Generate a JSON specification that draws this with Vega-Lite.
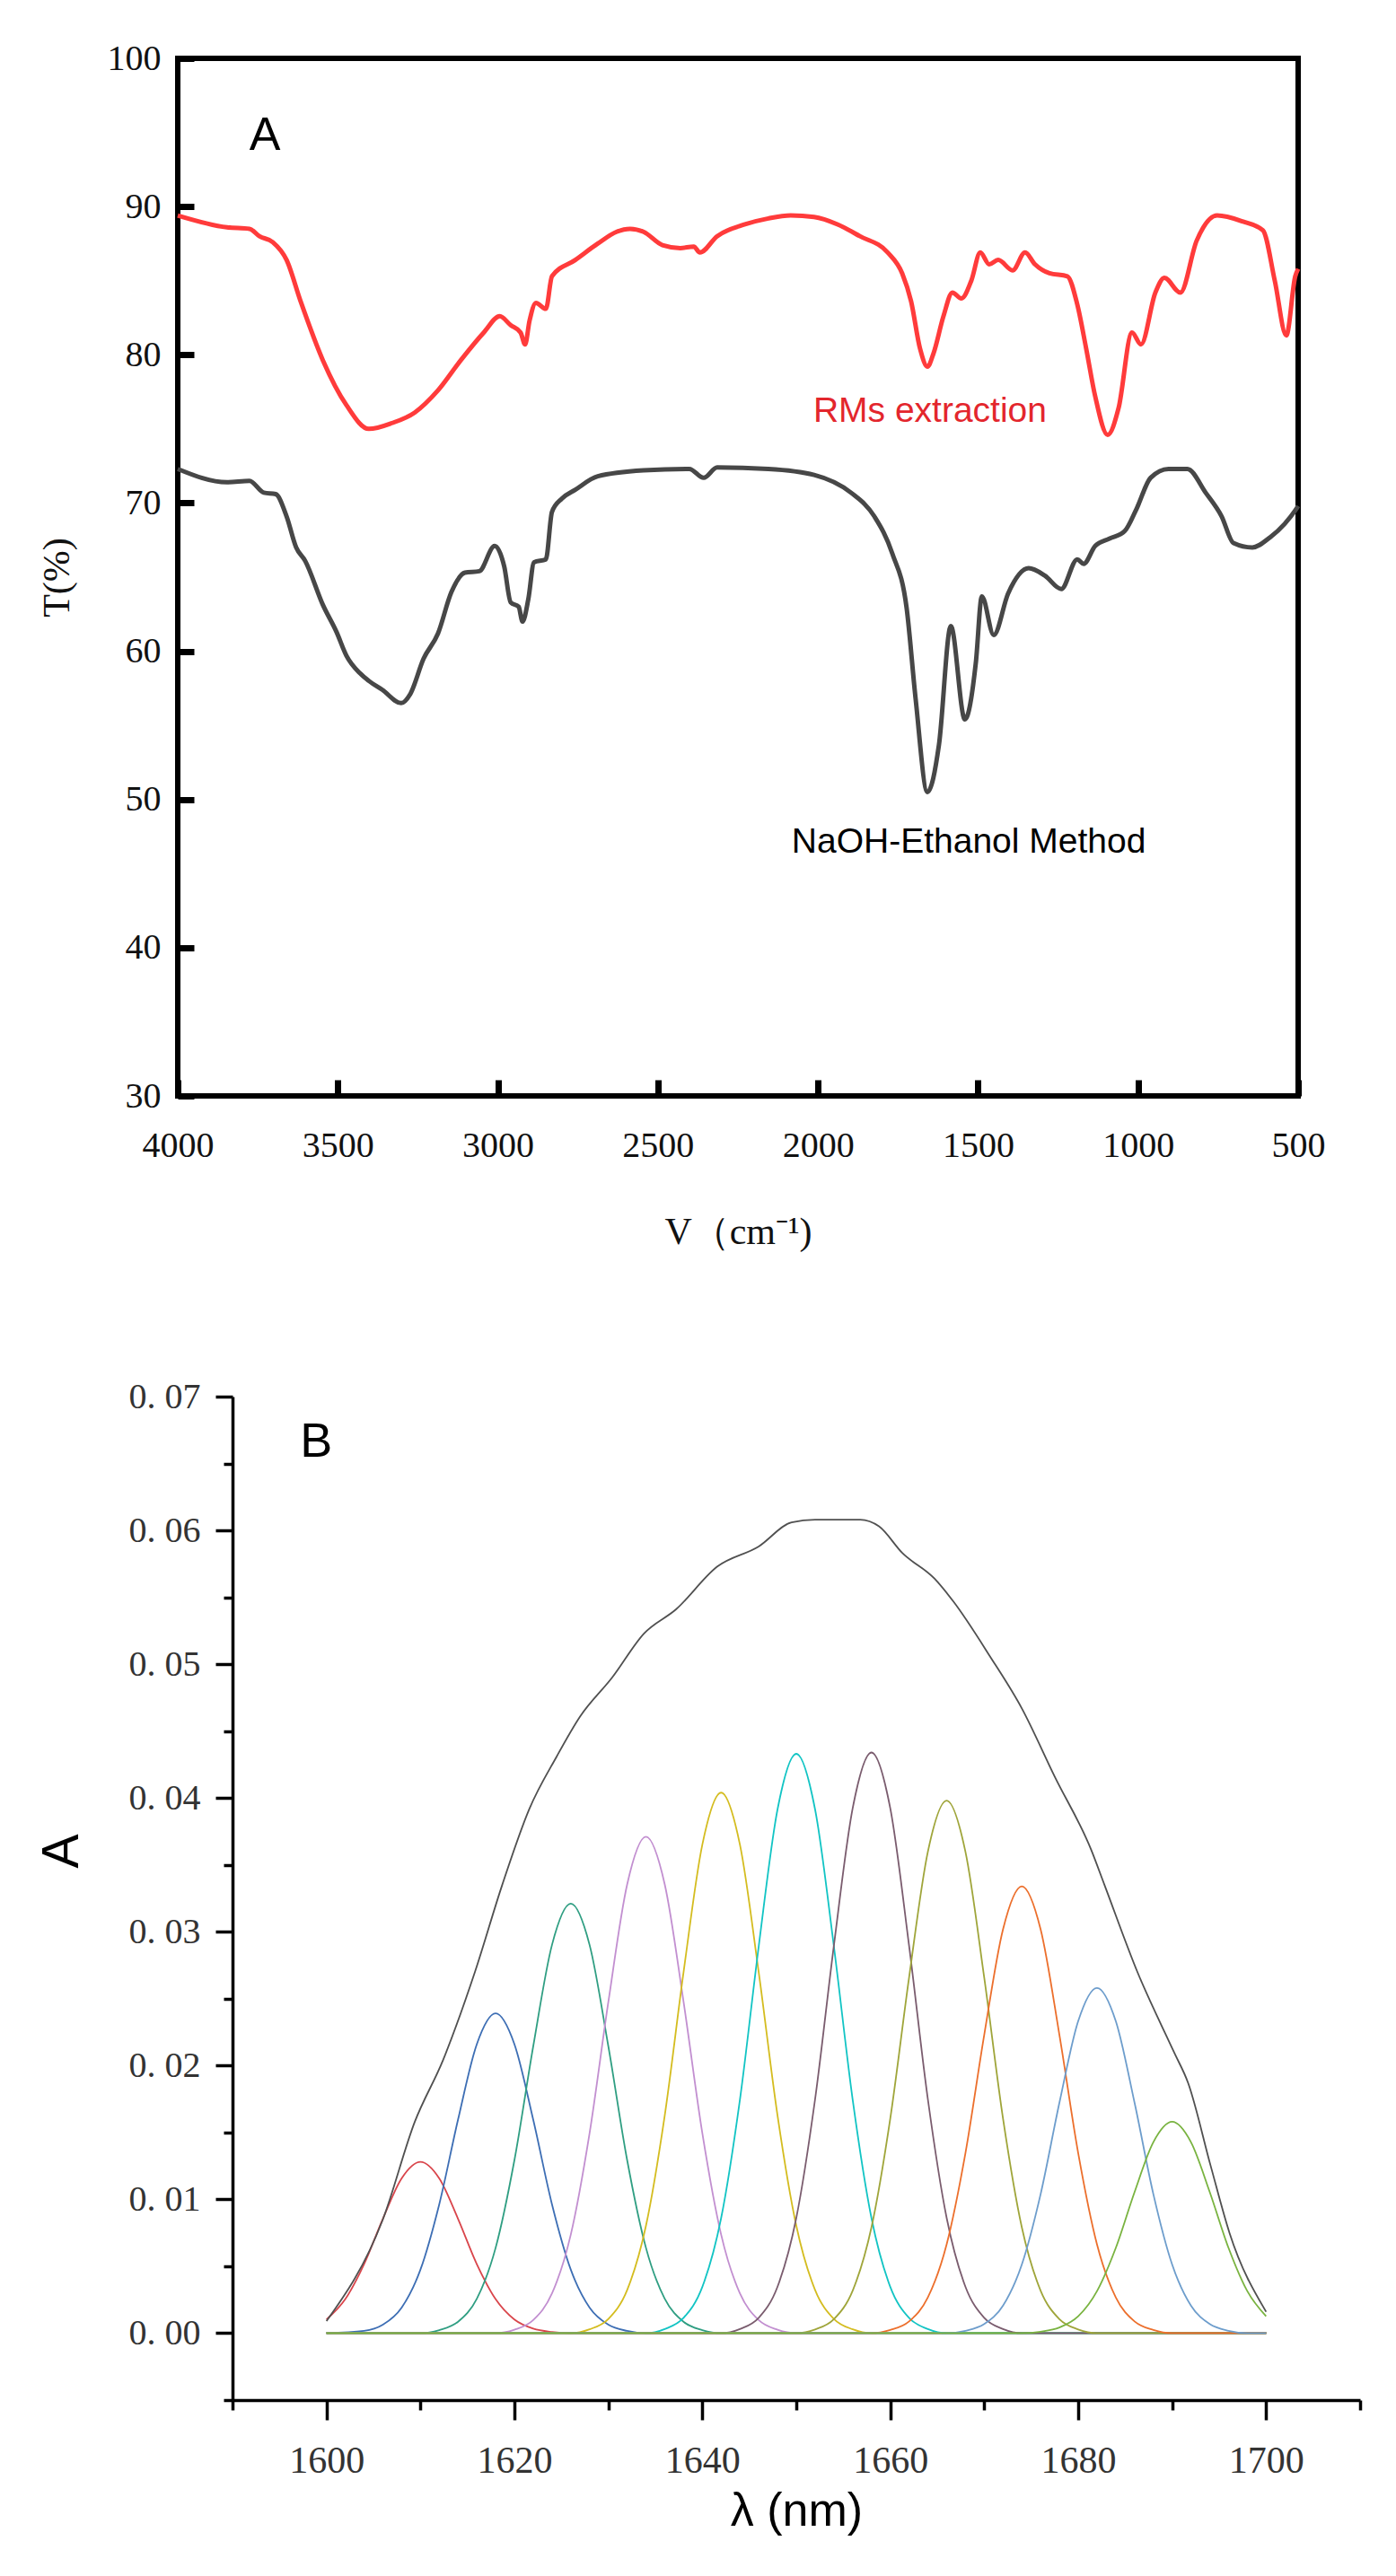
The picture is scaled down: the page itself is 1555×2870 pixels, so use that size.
{
"$schema": "https://vega.github.io/schema/vega-lite/v6.json",
"background": "white",
"padding": {"left": 39, "top": 42, "right": 5, "bottom": 5},
"spacing": 140,
"columns": 1,
"align": "none",
"resolve": {"scale": {"color": "independent"}},
"config": {"view": {"stroke": null}},
"datasets": {
"ftir": [
{"s":"RMs","v":4000,"t":89.4},{"s":"RMs","v":3846,"t":88.6},{"s":"RMs","v":3776,"t":88.5},{"s":"RMs","v":3745,"t":88.0},{"s":"RMs","v":3703,"t":87.6},{"s":"RMs","v":3660,"t":86.4},{"s":"RMs","v":3616,"t":83.6},{"s":"RMs","v":3546,"t":79.6},{"s":"RMs","v":3473,"t":76.6},{"s":"RMs","v":3403,"t":75.0},{"s":"RMs","v":3330,"t":75.4},{"s":"RMs","v":3260,"t":76.1},{"s":"RMs","v":3187,"t":77.6},{"s":"RMs","v":3117,"t":79.6},{"s":"RMs","v":3044,"t":81.5},{"s":"RMs","v":2994,"t":82.6},{"s":"RMs","v":2960,"t":82.0},{"s":"RMs","v":2929,"t":81.5},{"s":"RMs","v":2915,"t":80.7},{"s":"RMs","v":2901,"t":82.3},{"s":"RMs","v":2881,"t":83.5},{"s":"RMs","v":2850,"t":83.1},{"s":"RMs","v":2831,"t":85.3},{"s":"RMs","v":2758,"t":86.4},{"s":"RMs","v":2688,"t":87.5},{"s":"RMs","v":2629,"t":88.3},{"s":"RMs","v":2587,"t":88.5},{"s":"RMs","v":2545,"t":88.3},{"s":"RMs","v":2486,"t":87.4},{"s":"RMs","v":2430,"t":87.2},{"s":"RMs","v":2388,"t":87.3},{"s":"RMs","v":2369,"t":86.9},{"s":"RMs","v":2315,"t":88.0},{"s":"RMs","v":2228,"t":88.8},{"s":"RMs","v":2155,"t":89.2},{"s":"RMs","v":2085,"t":89.4},{"s":"RMs","v":2012,"t":89.3},{"s":"RMs","v":1939,"t":88.8},{"s":"RMs","v":1869,"t":88.0},{"s":"RMs","v":1782,"t":86.9},{"s":"RMs","v":1737,"t":85.5},{"s":"RMs","v":1709,"t":83.6},{"s":"RMs","v":1681,"t":80.4},{"s":"RMs","v":1658,"t":79.2},{"s":"RMs","v":1639,"t":80.1},{"s":"RMs","v":1608,"t":82.6},{"s":"RMs","v":1580,"t":84.2},{"s":"RMs","v":1552,"t":83.8},{"s":"RMs","v":1521,"t":85.0},{"s":"RMs","v":1493,"t":86.9},{"s":"RMs","v":1465,"t":86.1},{"s":"RMs","v":1437,"t":86.4},{"s":"RMs","v":1392,"t":85.7},{"s":"RMs","v":1353,"t":86.9},{"s":"RMs","v":1322,"t":86.1},{"s":"RMs","v":1277,"t":85.5},{"s":"RMs","v":1221,"t":85.3},{"s":"RMs","v":1190,"t":83.4},{"s":"RMs","v":1162,"t":80.4},{"s":"RMs","v":1134,"t":77.2},{"s":"RMs","v":1095,"t":74.6},{"s":"RMs","v":1061,"t":76.4},{"s":"RMs","v":1019,"t":81.5},{"s":"RMs","v":991,"t":80.7},{"s":"RMs","v":946,"t":84.2},{"s":"RMs","v":918,"t":85.2},{"s":"RMs","v":868,"t":84.2},{"s":"RMs","v":817,"t":87.7},{"s":"RMs","v":753,"t":89.4},{"s":"RMs","v":674,"t":89.0},{"s":"RMs","v":610,"t":88.4},{"s":"RMs","v":573,"t":85.0},{"s":"RMs","v":537,"t":81.3},{"s":"RMs","v":509,"t":85.3},{"s":"RMs","v":500,"t":85.8},
{"s":"NaOH","v":4000,"t":72.3},{"s":"NaOH","v":3846,"t":71.4},{"s":"NaOH","v":3776,"t":71.5},{"s":"NaOH","v":3731,"t":70.7},{"s":"NaOH","v":3694,"t":70.6},{"s":"NaOH","v":3660,"t":69.1},{"s":"NaOH","v":3630,"t":67.0},{"s":"NaOH","v":3602,"t":66.1},{"s":"NaOH","v":3546,"t":63.1},{"s":"NaOH","v":3504,"t":61.3},{"s":"NaOH","v":3473,"t":59.7},{"s":"NaOH","v":3430,"t":58.5},{"s":"NaOH","v":3403,"t":58.0},{"s":"NaOH","v":3361,"t":57.4},{"s":"NaOH","v":3302,"t":56.5},{"s":"NaOH","v":3274,"t":57.1},{"s":"NaOH","v":3232,"t":59.5},{"s":"NaOH","v":3187,"t":61.2},{"s":"NaOH","v":3145,"t":64.0},{"s":"NaOH","v":3103,"t":65.3},{"s":"NaOH","v":3058,"t":65.4},{"s":"NaOH","v":3010,"t":67.1},{"s":"NaOH","v":2980,"t":65.7},{"s":"NaOH","v":2960,"t":63.3},{"s":"NaOH","v":2935,"t":63.0},{"s":"NaOH","v":2923,"t":62.0},{"s":"NaOH","v":2905,"t":63.5},{"s":"NaOH","v":2887,"t":66.0},{"s":"NaOH","v":2850,"t":66.2},{"s":"NaOH","v":2831,"t":69.4},{"s":"NaOH","v":2800,"t":70.3},{"s":"NaOH","v":2758,"t":70.9},{"s":"NaOH","v":2688,"t":71.8},{"s":"NaOH","v":2545,"t":72.2},{"s":"NaOH","v":2402,"t":72.3},{"s":"NaOH","v":2357,"t":71.7},{"s":"NaOH","v":2315,"t":72.4},{"s":"NaOH","v":2155,"t":72.3},{"s":"NaOH","v":2012,"t":71.9},{"s":"NaOH","v":1897,"t":70.7},{"s":"NaOH","v":1824,"t":69.1},{"s":"NaOH","v":1768,"t":66.6},{"s":"NaOH","v":1723,"t":62.9},{"s":"NaOH","v":1695,"t":56.8},{"s":"NaOH","v":1658,"t":50.5},{"s":"NaOH","v":1622,"t":53.7},{"s":"NaOH","v":1585,"t":61.7},{"s":"NaOH","v":1541,"t":55.4},{"s":"NaOH","v":1507,"t":59.2},{"s":"NaOH","v":1488,"t":63.7},{"s":"NaOH","v":1451,"t":61.1},{"s":"NaOH","v":1406,"t":63.9},{"s":"NaOH","v":1342,"t":65.6},{"s":"NaOH","v":1291,"t":65.1},{"s":"NaOH","v":1240,"t":64.2},{"s":"NaOH","v":1190,"t":66.2},{"s":"NaOH","v":1170,"t":65.9},{"s":"NaOH","v":1134,"t":67.1},{"s":"NaOH","v":1089,"t":67.6},{"s":"NaOH","v":1042,"t":68.1},{"s":"NaOH","v":1005,"t":69.6},{"s":"NaOH","v":961,"t":71.7},{"s":"NaOH","v":905,"t":72.3},{"s":"NaOH","v":846,"t":72.3},{"s":"NaOH","v":789,"t":70.7},{"s":"NaOH","v":739,"t":69.1},{"s":"NaOH","v":702,"t":67.3},{"s":"NaOH","v":643,"t":67.0},{"s":"NaOH","v":587,"t":67.7},{"s":"NaOH","v":542,"t":68.6},{"s":"NaOH","v":509,"t":69.5},{"s":"NaOH","v":500,"t":69.8}
],
"gauss": [
{"p":"p1","x":1600,"y":0.00102},{"p":"p1","x":1602,"y":0.00254},{"p":"p1","x":1604,"y":0.00516},{"p":"p1","x":1606,"y":0.00855},{"p":"p1","x":1608,"y":0.01157},{"p":"p1","x":1610,"y":0.0128},{"p":"p1","x":1612,"y":0.01157},{"p":"p1","x":1614,"y":0.00855},{"p":"p1","x":1616,"y":0.00516},{"p":"p1","x":1618,"y":0.00254},{"p":"p1","x":1620,"y":0.00102},{"p":"p1","x":1622,"y":0.00034},{"p":"p1","x":1624,"y":0.00009},{"p":"p1","x":1626,"y":0},{"p":"p1","x":1700,"y":0},
{"p":"p2","x":1600,"y":0},{"p":"p2","x":1604,"y":0.00017},{"p":"p2","x":1606,"y":0.00063},{"p":"p2","x":1608,"y":0.00191},{"p":"p2","x":1610,"y":0.00475},{"p":"p2","x":1612,"y":0.00963},{"p":"p2","x":1614,"y":0.01596},{"p":"p2","x":1616,"y":0.0216},{"p":"p2","x":1618,"y":0.0239},{"p":"p2","x":1620,"y":0.0216},{"p":"p2","x":1622,"y":0.01596},{"p":"p2","x":1624,"y":0.00963},{"p":"p2","x":1626,"y":0.00475},{"p":"p2","x":1628,"y":0.00191},{"p":"p2","x":1630,"y":0.00063},{"p":"p2","x":1632,"y":0.00017},{"p":"p2","x":1634,"y":0},{"p":"p2","x":1700,"y":0},
{"p":"p3","x":1600,"y":0},{"p":"p3","x":1610,"y":0},{"p":"p3","x":1612,"y":0.00023},{"p":"p3","x":1614,"y":0.00085},{"p":"p3","x":1616,"y":0.00257},{"p":"p3","x":1618,"y":0.00638},{"p":"p3","x":1620,"y":0.01293},{"p":"p3","x":1622,"y":0.02143},{"p":"p3","x":1624,"y":0.02902},{"p":"p3","x":1626,"y":0.0321},{"p":"p3","x":1628,"y":0.02902},{"p":"p3","x":1630,"y":0.02143},{"p":"p3","x":1632,"y":0.01293},{"p":"p3","x":1634,"y":0.00638},{"p":"p3","x":1636,"y":0.00257},{"p":"p3","x":1638,"y":0.00085},{"p":"p3","x":1640,"y":0.00023},{"p":"p3","x":1642,"y":0},{"p":"p3","x":1700,"y":0},
{"p":"p4","x":1600,"y":0},{"p":"p4","x":1618,"y":0},{"p":"p4","x":1620,"y":0.00026},{"p":"p4","x":1622,"y":0.00098},{"p":"p4","x":1624,"y":0.00297},{"p":"p4","x":1626,"y":0.00737},{"p":"p4","x":1628,"y":0.01495},{"p":"p4","x":1630,"y":0.02477},{"p":"p4","x":1632,"y":0.03354},{"p":"p4","x":1634,"y":0.0371},{"p":"p4","x":1636,"y":0.03354},{"p":"p4","x":1638,"y":0.02477},{"p":"p4","x":1640,"y":0.01495},{"p":"p4","x":1642,"y":0.00737},{"p":"p4","x":1644,"y":0.00297},{"p":"p4","x":1646,"y":0.00098},{"p":"p4","x":1648,"y":0.00026},{"p":"p4","x":1650,"y":0},{"p":"p4","x":1700,"y":0},
{"p":"p5","x":1600,"y":0},{"p":"p5","x":1626,"y":0},{"p":"p5","x":1628,"y":0.00029},{"p":"p5","x":1630,"y":0.00107},{"p":"p5","x":1632,"y":0.00323},{"p":"p5","x":1634,"y":0.00803},{"p":"p5","x":1636,"y":0.01628},{"p":"p5","x":1638,"y":0.02697},{"p":"p5","x":1640,"y":0.03652},{"p":"p5","x":1642,"y":0.0404},{"p":"p5","x":1644,"y":0.03652},{"p":"p5","x":1646,"y":0.02697},{"p":"p5","x":1648,"y":0.01628},{"p":"p5","x":1650,"y":0.00803},{"p":"p5","x":1652,"y":0.00323},{"p":"p5","x":1654,"y":0.00107},{"p":"p5","x":1656,"y":0.00029},{"p":"p5","x":1658,"y":0},{"p":"p5","x":1700,"y":0},
{"p":"p6","x":1600,"y":0},{"p":"p6","x":1634,"y":0},{"p":"p6","x":1636,"y":0.00031},{"p":"p6","x":1638,"y":0.00114},{"p":"p6","x":1640,"y":0.00346},{"p":"p6","x":1642,"y":0.0086},{"p":"p6","x":1644,"y":0.01745},{"p":"p6","x":1646,"y":0.02891},{"p":"p6","x":1648,"y":0.03914},{"p":"p6","x":1650,"y":0.0433},{"p":"p6","x":1652,"y":0.03914},{"p":"p6","x":1654,"y":0.02891},{"p":"p6","x":1656,"y":0.01745},{"p":"p6","x":1658,"y":0.0086},{"p":"p6","x":1660,"y":0.00346},{"p":"p6","x":1662,"y":0.00114},{"p":"p6","x":1664,"y":0.00031},{"p":"p6","x":1666,"y":0},{"p":"p6","x":1700,"y":0},
{"p":"p7","x":1600,"y":0},{"p":"p7","x":1642,"y":0},{"p":"p7","x":1644,"y":0.00031},{"p":"p7","x":1646,"y":0.00115},{"p":"p7","x":1648,"y":0.00347},{"p":"p7","x":1650,"y":0.00862},{"p":"p7","x":1652,"y":0.01749},{"p":"p7","x":1654,"y":0.02897},{"p":"p7","x":1656,"y":0.03923},{"p":"p7","x":1658,"y":0.0434},{"p":"p7","x":1660,"y":0.03923},{"p":"p7","x":1662,"y":0.02897},{"p":"p7","x":1664,"y":0.01749},{"p":"p7","x":1666,"y":0.00862},{"p":"p7","x":1668,"y":0.00347},{"p":"p7","x":1670,"y":0.00115},{"p":"p7","x":1672,"y":0.00031},{"p":"p7","x":1674,"y":0},{"p":"p7","x":1700,"y":0},
{"p":"p8","x":1600,"y":0},{"p":"p8","x":1650,"y":0},{"p":"p8","x":1652,"y":0.00028},{"p":"p8","x":1654,"y":0.00105},{"p":"p8","x":1656,"y":0.00318},{"p":"p8","x":1658,"y":0.00791},{"p":"p8","x":1660,"y":0.01604},{"p":"p8","x":1662,"y":0.02657},{"p":"p8","x":1664,"y":0.03598},{"p":"p8","x":1666,"y":0.0398},{"p":"p8","x":1668,"y":0.03598},{"p":"p8","x":1670,"y":0.02657},{"p":"p8","x":1672,"y":0.01604},{"p":"p8","x":1674,"y":0.00791},{"p":"p8","x":1676,"y":0.00318},{"p":"p8","x":1678,"y":0.00105},{"p":"p8","x":1680,"y":0.00028},{"p":"p8","x":1682,"y":0},{"p":"p8","x":1700,"y":0},
{"p":"p9","x":1600,"y":0},{"p":"p9","x":1658,"y":0},{"p":"p9","x":1660,"y":0.00024},{"p":"p9","x":1662,"y":0.00088},{"p":"p9","x":1664,"y":0.00267},{"p":"p9","x":1666,"y":0.00664},{"p":"p9","x":1668,"y":0.01346},{"p":"p9","x":1670,"y":0.0223},{"p":"p9","x":1672,"y":0.03019},{"p":"p9","x":1674,"y":0.0334},{"p":"p9","x":1676,"y":0.03019},{"p":"p9","x":1678,"y":0.0223},{"p":"p9","x":1680,"y":0.01346},{"p":"p9","x":1682,"y":0.00664},{"p":"p9","x":1684,"y":0.00267},{"p":"p9","x":1686,"y":0.00088},{"p":"p9","x":1688,"y":0.00024},{"p":"p9","x":1690,"y":0},{"p":"p9","x":1700,"y":0},
{"p":"p10","x":1600,"y":0},{"p":"p10","x":1666,"y":0},{"p":"p10","x":1668,"y":0.00018},{"p":"p10","x":1670,"y":0.00068},{"p":"p10","x":1672,"y":0.00206},{"p":"p10","x":1674,"y":0.00513},{"p":"p10","x":1676,"y":0.01039},{"p":"p10","x":1678,"y":0.01722},{"p":"p10","x":1680,"y":0.02332},{"p":"p10","x":1682,"y":0.0258},{"p":"p10","x":1684,"y":0.02332},{"p":"p10","x":1686,"y":0.01722},{"p":"p10","x":1688,"y":0.01039},{"p":"p10","x":1690,"y":0.00513},{"p":"p10","x":1692,"y":0.00206},{"p":"p10","x":1694,"y":0.00068},{"p":"p10","x":1696,"y":0.00018},{"p":"p10","x":1698,"y":0},{"p":"p10","x":1700,"y":0},
{"p":"p11","x":1600,"y":0},{"p":"p11","x":1674,"y":0},{"p":"p11","x":1676,"y":0.00011},{"p":"p11","x":1678,"y":0.00042},{"p":"p11","x":1680,"y":0.00126},{"p":"p11","x":1682,"y":0.00314},{"p":"p11","x":1684,"y":0.00637},{"p":"p11","x":1686,"y":0.01055},{"p":"p11","x":1688,"y":0.01428},{"p":"p11","x":1690,"y":0.0158},{"p":"p11","x":1692,"y":0.01428},{"p":"p11","x":1694,"y":0.01055},{"p":"p11","x":1696,"y":0.00637},{"p":"p11","x":1698,"y":0.00314},{"p":"p11","x":1700,"y":0.00126}
],
"env": [
{"x":1600,"y":0.0009},{"x":1606,"y":0.0085},{"x":1609.4,"y":0.0158},{"x":1612.4,"y":0.0204},{"x":1615.8,"y":0.027},{"x":1618.7,"y":0.0335},{"x":1621.6,"y":0.0392},{"x":1624.5,"y":0.0431},{"x":1627,"y":0.0461},{"x":1630.4,"y":0.049},{"x":1633.8,"y":0.0523},{"x":1637.2,"y":0.0541},{"x":1641.6,"y":0.0573},{"x":1646,"y":0.0588},{"x":1649.5,"y":0.0606},{"x":1652,"y":0.0608},{"x":1656.8,"y":0.0608},{"x":1658.8,"y":0.0603},{"x":1661.3,"y":0.0583},{"x":1664.7,"y":0.0564},{"x":1666.7,"y":0.0547},{"x":1670.6,"y":0.0506},{"x":1674,"y":0.0467},{"x":1677.5,"y":0.0416},{"x":1681.4,"y":0.0361},{"x":1682.8,"y":0.0335},{"x":1686.3,"y":0.027},{"x":1690.2,"y":0.021},{"x":1691.7,"y":0.0187},{"x":1694.1,"y":0.0125},{"x":1696.1,"y":0.0075},{"x":1700,"y":0.0016}
]
},
"concat": [
{
"width": 1248, "height": 1156,
"view": {"stroke": "black", "strokeWidth": 6},
"layer": [
{"data": {"name": "ftir"},
 "mark": {"type": "line", "strokeWidth": 5, "interpolate": "monotone"},
 "encoding": {
  "x": {"field": "v", "type": "quantitative",
        "scale": {"domain": [500, 4000], "reverse": true, "nice": false, "zero": false},
        "axis": {"title": "V（cm⁻¹)", "values": [4000,3500,3000,2500,2000,1500,1000,500], "format": "d",
                 "grid": false, "domain": false, "tickSize": -18, "tickWidth": 7, "tickColor": "black",
                 "labelFont": "Liberation Serif", "labelFontSize": 40, "labelColor": "#111", "labelPadding": 53,
                 "labelFlush": false, "labelOverlap": false, "labelBound": false,
                 "titleFont": "Liberation Serif", "titleFontSize": 42, "titleFontWeight": "normal", "titleColor": "#111", "titlePadding": 56}},
  "y": {"field": "t", "type": "quantitative",
        "scale": {"domain": [30, 100], "nice": false, "zero": false},
        "axis": {"title": "T(%)", "values": [30,40,50,60,70,80,90,100],
                 "grid": false, "domain": false, "tickSize": -18, "tickWidth": 7, "tickColor": "black",
                 "labelFont": "Liberation Serif", "labelFontSize": 40, "labelColor": "#111", "labelPadding": 37,
                 "labelFlush": false, "labelOverlap": false, "labelBound": false,
                 "titleFont": "Liberation Serif", "titleFontSize": 42, "titleFontWeight": "normal", "titleColor": "#111", "titlePadding": 34}},
  "color": {"field": "s", "type": "nominal", "scale": {"domain": ["RMs", "NaOH"], "range": ["#ff3b3b", "#474747"]}, "legend": null}
 }},
{"data": {"values": [{}]}, "mark": {"type": "text", "text": "A", "font": "Liberation Sans", "fontSize": 52, "align": "left", "baseline": "alphabetic", "color": "black"},
 "encoding": {"x": {"datum": 3776}, "y": {"datum": 93.8}}},
{"data": {"values": [{}]}, "mark": {"type": "text", "text": "RMs extraction", "font": "Liberation Sans", "fontSize": 39, "align": "center", "baseline": "alphabetic", "color": "#e3262d"},
 "encoding": {"x": {"datum": 1650}, "y": {"datum": 75.5}}},
{"data": {"values": [{}]}, "mark": {"type": "text", "text": "NaOH-Ethanol Method", "font": "Liberation Sans", "fontSize": 39, "align": "center", "baseline": "alphabetic", "color": "black"},
 "encoding": {"x": {"datum": 1529}, "y": {"datum": 46.4}}}
]
},
{
"width": 1317, "height": 1118,
"layer": [
{"data": {"name": "gauss"},
 "mark": {"type": "line", "strokeWidth": 1.8, "interpolate": "monotone"},
 "encoding": {
  "x": {"field": "x", "type": "quantitative",
        "scale": {"domain": [1590, 1710], "range": [61, 1317], "nice": false, "zero": false},
        "axis": {"title": "λ (nm)", "values": [1590,1600,1610,1620,1630,1640,1650,1660,1670,1680,1690,1700,1710], "format": "d",
                 "labelExpr": "datum.value % 20 == 0 ? datum.label : ''",
                 "grid": false, "domain": true, "domainColor": "black", "domainWidth": 3.5,
                 "tickColor": "black", "tickWidth": 3.5,
                 "tickSize": {"condition": {"test": "datum.value % 20 == 0", "value": 22}, "value": 11},
                 "labelFont": "Liberation Serif", "labelFontSize": 42, "labelColor": "#333", "labelPadding": 25,
                 "labelFlush": false, "labelOverlap": false, "labelBound": false,
                 "titleFont": "Liberation Sans", "titleFontSize": 52, "titleFontWeight": "normal", "titleColor": "black", "titlePadding": 10}},
  "y": {"field": "y", "type": "quantitative",
        "scale": {"domain": [-0.005, 0.07], "nice": false, "zero": false},
        "axis": {"title": "A", "offset": -61, "values": [-0.005,0,0.005,0.01,0.015,0.02,0.025,0.03,0.035,0.04,0.045,0.05,0.055,0.06,0.065,0.07],
                 "labelExpr": "abs(datum.value*100 - round(datum.value*100)) < 0.001 && datum.value > -0.001 ? replace(format(datum.value, '.2f'), '.', '. ') : ''",
                 "grid": false, "domain": true, "domainColor": "black", "domainWidth": 3.5,
                 "tickColor": "black", "tickWidth": 3.5,
                 "tickSize": {"condition": {"test": "abs(datum.value*100 - round(datum.value*100)) < 0.001", "value": 19}, "value": 10},
                 "labelFont": "Liberation Serif", "labelFontSize": 40, "labelColor": "#333", "labelPadding": 17,
                 "labelFlush": false, "labelOverlap": false, "labelBound": false,
                 "titleFont": "Liberation Sans", "titleFontSize": 57, "titleFontWeight": "normal", "titleColor": "black", "titlePadding": 45, "titleY": 506}},
  "color": {"field": "p", "type": "nominal",
            "scale": {"domain": ["p1","p2","p3","p4","p5","p6","p7","p8","p9","p10","p11"],
                      "range": ["#d9454b","#3d6eb4","#2f9e82","#c28fd0","#d4bc1f","#12c4c4","#7a5c6e","#9fa53a","#ec6f2c","#6d9dcc","#79b340"]},
            "legend": null}
 }},
{"data": {"name": "env"},
 "mark": {"type": "line", "strokeWidth": 1.8, "color": "#505050", "interpolate": "monotone"},
 "encoding": {"x": {"field": "x", "type": "quantitative"}, "y": {"field": "y", "type": "quantitative"}}},
{"data": {"values": [{}]}, "mark": {"type": "text", "text": "B", "font": "Liberation Sans", "fontSize": 54, "align": "left", "baseline": "alphabetic", "color": "black"},
 "encoding": {"x": {"datum": 1597.2}, "y": {"datum": 0.0655}}}
]
}
]
}
